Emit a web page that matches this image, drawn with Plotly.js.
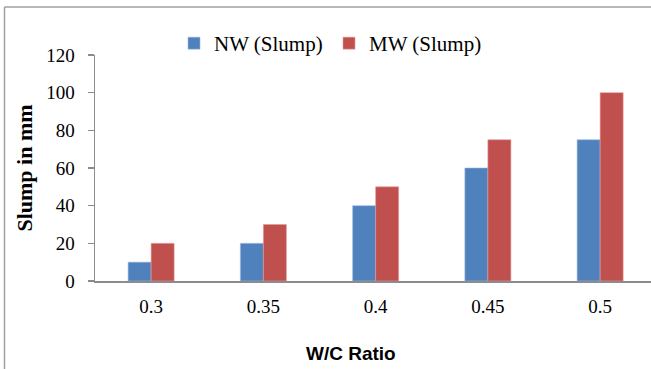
<!DOCTYPE html>
<html>
<head>
<meta charset="utf-8">
<script src="https://cdn.plot.ly/plotly-3.0.1.min.js"></script>
<style>
html,body{margin:0;padding:0;background:#fff;overflow:hidden;}
#chart{width:651px;height:369px;}
</style>
</head>
<body>
<div id="chart"></div>
<script>
const categories = ["0.3", "0.35", "0.4", "0.45", "0.5"];
const nwSlump = [10, 20, 40, 60, 75];
const mwSlump = [20, 30, 50, 75, 100];
const yTicks = [0, 20, 40, 60, 80, 100, 120];

const serif = "'Liberation Serif', 'Times New Roman', serif";

const traces = [
  {type: "bar", name: "NW (Slump)", x: categories, y: nwSlump,
   marker: {color: "#4F81BD", line: {color: "#9DB9DE", width: 0.6}}},
  {type: "bar", name: "MW (Slump)", x: categories, y: mwSlump,
   marker: {color: "#C0504D", line: {color: "#E39C9A", width: 0.6}}}
];

const layout = {
  width: 651, height: 369,
  margin: {l: 95, r: 0, t: 54.5, b: 88},
  paper_bgcolor: "#fff", plot_bgcolor: "#fff",
  barmode: "group", bargap: 0.59, bargroupgap: 0,
  showlegend: true,
  legend: {orientation: "h", x: (174 - 95) / 556, xanchor: "left", y: (281 - 43) / 226.5, yanchor: "middle",
           font: {family: serif, size: 21, color: "#000"}, itemwidth: 30, tracegroupgap: 0,
           entrywidth: 110, entrywidthmode: "pixels",
           bgcolor: "rgba(0,0,0,0)"},
  xaxis: {type: "category", range: [-0.5, 4.453], showline: true, linecolor: "#8C8C8C", linewidth: 2,
          ticks: "", tickfont: {family: serif, size: 19, color: "#000"}, ticklabelstandoff: 7,
          showgrid: false, zeroline: false},
  yaxis: {range: [0, 120], tickvals: yTicks, showline: true, linecolor: "#8C8C8C", linewidth: 1.5,
          ticks: "outside", ticklen: 6, tickcolor: "#8C8C8C", tickwidth: 1.5,
          tickfont: {family: serif, size: 19, color: "#000"}, ticklabelstandoff: 9,
          showgrid: false, zeroline: false,
          title: {text: "Slump in mm", font: {family: serif, size: 22, color: "#000", weight: "bold"}, standoff: 7}},
  annotations: [
    {text: "W/C Ratio", xref: "paper", yref: "paper", x: (351 - 95) / 556, y: (281 - 354) / 226.5,
     xanchor: "center", yanchor: "middle", showarrow: false,
     font: {family: "'Liberation Sans', Arial, sans-serif", size: 19, color: "#000", weight: "bold"}}
  ],
  shapes: [
    {type: "line", xref: "paper", yref: "paper", x0: (4.5-95)/556, x1: (4.5-95)/556, y0: -2, y1: (281-6.5)/226.5,
     line: {color: "#A0A0A0", width: 1.5}},
    {type: "line", xref: "paper", yref: "paper", x0: (4.5-95)/556, x1: 2, y0: (281-6.5)/226.5, y1: (281-6.5)/226.5,
     line: {color: "#A0A0A0", width: 1.5}}
  ]
};

Plotly.newPlot("chart", traces, layout, {displayModeBar: false, staticPlot: true});
</script>
</body>
</html>
